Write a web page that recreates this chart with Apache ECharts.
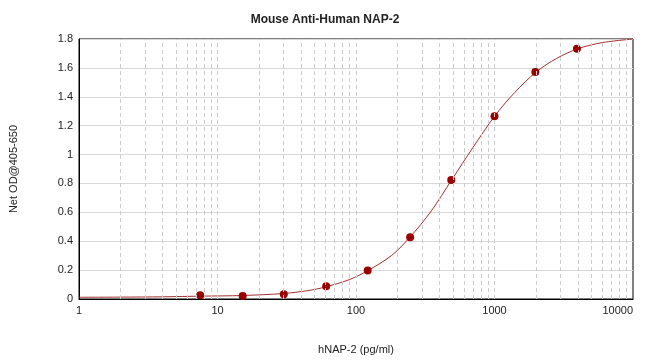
<!DOCTYPE html>
<html>
<head>
<meta charset="utf-8">
<script src="https://cdn.jsdelivr.net/npm/echarts@6/dist/echarts.min.js"></script>
<style>html,body{margin:0;padding:0;background:#fff}#c{width:650px;height:363px}</style>
</head>
<body>
<div id="c"></div>
<script>
// Standards (concentration pg/ml) and measured OD
const concentrations = [7.5, 15.2, 30.1, 60.9, 121.4, 246, 487, 1000, 1972, 3937];
const odValues = [0.026, 0.021, 0.033, 0.088, 0.197, 0.427, 0.824, 1.265, 1.572, 1.733];
// Fitted curve
const curveX = [1, 2, 4, 7.8, 15, 30, 45, 60, 90, 122, 180, 245, 350, 490, 700, 1000, 1400, 2000, 2800, 4000, 6000, 10000];
const curveY = [0.012, 0.013, 0.015, 0.02, 0.024, 0.038, 0.058, 0.083, 0.135, 0.197, 0.30, 0.427, 0.61, 0.824, 1.05, 1.265, 1.43, 1.572, 1.665, 1.733, 1.775, 1.80];
const yTicks = [0, 0.2, 0.4, 0.6, 0.8, 1, 1.2, 1.4, 1.6, 1.8];
const decades = [1, 10, 100, 1000];

const gridX = [];
decades.forEach(d => { for (let k = 1; k <= 9; k++) { if (k * d > 1) gridX.push(k * d); } });

const chart = echarts.init(document.getElementById('c'));
chart.setOption({
  animation: false,
  backgroundColor: '#fff',
  title: {
    text: 'Mouse Anti-Human NAP-2', left: 'center', top: 9,
    textStyle: { fontFamily: 'Liberation Sans, Arial', fontSize: 12, fontWeight: 'bold', color: '#222' }
  },
  grid: { left: 78, right: 17, top: 39, bottom: 64, show: true, borderColor: '#000', borderWidth: 1, backgroundColor: 'transparent' },
  xAxis: {
    type: 'log', min: 1, max: 10000, logBase: 10,
    name: 'hNAP-2 (pg/ml)', nameLocation: 'middle', nameGap: 45,
    nameTextStyle: { fontFamily: 'Liberation Sans, Arial', fontSize: 11, color: '#222' },
    axisLine: { show: true, lineStyle: { color: '#000', width: 1 } },
    axisTick: { show: false },
    axisLabel: { fontFamily: 'Liberation Sans, Arial', fontSize: 11, color: '#222', margin: 6, alignMaxLabel: 'right',
      formatter: v => String(Math.round(v)) },
    splitLine: { show: false }
  },
  yAxis: {
    type: 'value', min: 0, max: 1.8, interval: 0.2,
    name: 'Net OD@405-650', nameLocation: 'middle', nameGap: 60, nameRotate: 90,
    nameTextStyle: { fontFamily: 'Liberation Sans, Arial', fontSize: 11, color: '#222' },
    axisLine: { show: true, lineStyle: { color: '#000', width: 1 } },
    axisTick: { show: false },
    axisLabel: { fontFamily: 'Liberation Sans, Arial', fontSize: 11, color: '#222', margin: 6,
      formatter: v => String(Math.round(v * 10) / 10) },
    splitLine: { show: true, lineStyle: { color: '#d8d8d8', width: 1 } }
  },
  series: [
    {
      type: 'line', data: [], silent: true,
      markLine: {
        silent: true, symbol: 'none', animation: false,
        label: { show: false },
        lineStyle: { color: '#cccccc', type: [4, 3], width: 1 },
        data: gridX.map(v => ({ xAxis: v }))
      }
    },
    {
      type: 'line', data: curveX.map((x, i) => [x, curveY[i]]),
      smooth: 0.3, showSymbol: false, lineStyle: { color: '#a3302f', width: 1 }, z: 3
    },
    {
      type: 'scatter', data: concentrations.map((x, i) => [x, odValues[i]]),
      symbolSize: 8, itemStyle: { color: '#990000', opacity: 1 }, z: 4
    }
  ]
});
</script>
</body>
</html>
